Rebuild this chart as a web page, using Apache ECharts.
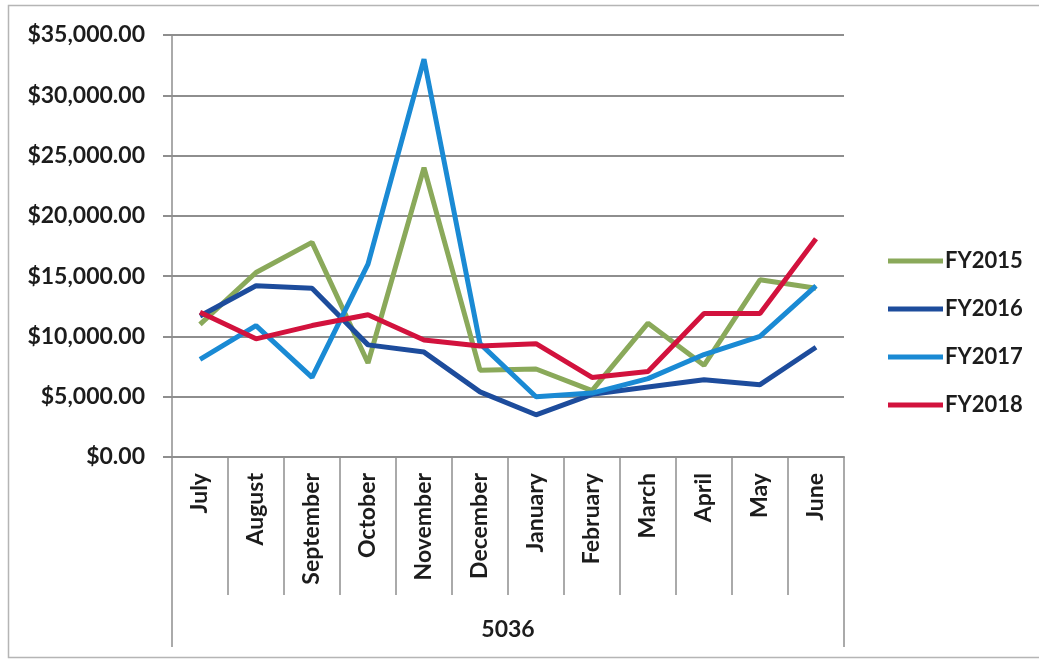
<!DOCTYPE html>
<html>
<head>
<meta charset="utf-8">
<script src="https://cdn.jsdelivr.net/npm/echarts@6/dist/echarts.min.js"></script>
<style>
  html, body { margin: 0; padding: 0; background: #ffffff; }
  #chart { width: 1039px; height: 660px; }
</style>
</head>
<body>
<div id="chart"></div>
<script>
// Monthly totals for account 5036, by fiscal year (July through June)
const months = ['July', 'August', 'September', 'October', 'November', 'December',
                'January', 'February', 'March', 'April', 'May', 'June'];
const groupLabel = ['5036'];
const fy2015 = [11000, 15300, 17800, 7800, 24000, 7200, 7300, 5500, 11100, 7600, 14700, 14000];
const fy2016 = [11700, 14200, 14000, 9300, 8700, 5400, 3500, 5200, 5800, 6400, 6000, 9100];
const fy2017 = [8100, 10900, 6600, 16000, 33000, 9400, 5000, 5300, 6500, 8500, 10000, 14200];
const fy2018 = [12000, 9800, 10900, 11800, 9700, 9200, 9400, 6600, 7100, 11900, 11900, 18100];
const seriesNames = ['FY2015', 'FY2016', 'FY2017', 'FY2018'];
const seriesColors = ['#8aa95a', '#1d4c9c', '#1a8ad4', '#d2123d'];
const yTicks = { min: 0, max: 35000, interval: 5000 };

const FONT = 'Lato';
const TEXT = '#1c1c1c';
const RULE = '#8e8e8e';

const chart = echarts.init(document.getElementById('chart'), null, { renderer: 'canvas' });

const money = v => '$' + v.toLocaleString('en-US', { minimumFractionDigits: 2, maximumFractionDigits: 2 });

const dataSets = [fy2015, fy2016, fy2017, fy2018];

chart.setOption({
  backgroundColor: '#ffffff',
  animation: false,
  graphic: [{
    type: 'rect',
    shape: { x: 8.5, y: 5.5, width: 1040, height: 652 },
    style: { fill: 'none', stroke: '#b5b5b5', lineWidth: 1.5 },
    silent: true
  }],
  legend: {
    orient: 'vertical',
    left: 883,
    top: 245,
    itemWidth: 55,
    itemHeight: 5,
    itemGap: 26,
    icon: 'rect',
    data: seriesNames,
    textStyle: { fontFamily: FONT, fontWeight: 'bold', fontSize: 22, color: TEXT, padding: [0, 0, 0, -3] }
  },
  grid: { left: 172, right: 195, top: 35, bottom: 203, containLabel: false },
  xAxis: [{
    type: 'category',
    data: months,
    position: 'bottom',
    boundaryGap: true,
    axisLine: { show: true, lineStyle: { color: RULE, width: 2 } },
    axisTick: { show: true, length: 138, interval: 0, lineStyle: { color: RULE, width: 1.5 } },
    axisLabel: {
      interval: 0, rotate: 90, margin: 16,
      fontFamily: FONT, fontWeight: 'bold', fontSize: 23, color: TEXT
    },
    splitLine: { show: false }
  }, {
    type: 'category',
    data: groupLabel,
    position: 'bottom',
    boundaryGap: true,
    axisLine: { show: false },
    axisTick: { show: true, length: 190, lineStyle: { color: RULE, width: 1.5 } },
    axisLabel: {
      margin: 161,
      fontFamily: FONT, fontWeight: 'bold', fontSize: 23, color: TEXT
    },
    splitLine: { show: false }
  }],
  yAxis: {
    type: 'value',
    min: yTicks.min,
    max: yTicks.max,
    interval: yTicks.interval,
    axisLine: { show: true, lineStyle: { color: RULE, width: 1.5 } },
    axisTick: { show: true, length: 9, inside: false, lineStyle: { color: RULE, width: 2 } },
    axisLabel: {
      margin: 27,
      formatter: money,
      fontFamily: FONT, fontWeight: 'bold', fontSize: 23, color: TEXT
    },
    splitLine: { show: true, lineStyle: { color: RULE, width: 2 } }
  },
  series: seriesNames.map((name, i) => ({
    name,
    type: 'line',
    xAxisIndex: 0,
    data: dataSets[i],
    showSymbol: false,
    symbol: 'none',
    lineStyle: { color: seriesColors[i], width: 5 },
    itemStyle: { color: seriesColors[i] },
    z: 2 + i
  }))
});
</script>
</body>
</html>
